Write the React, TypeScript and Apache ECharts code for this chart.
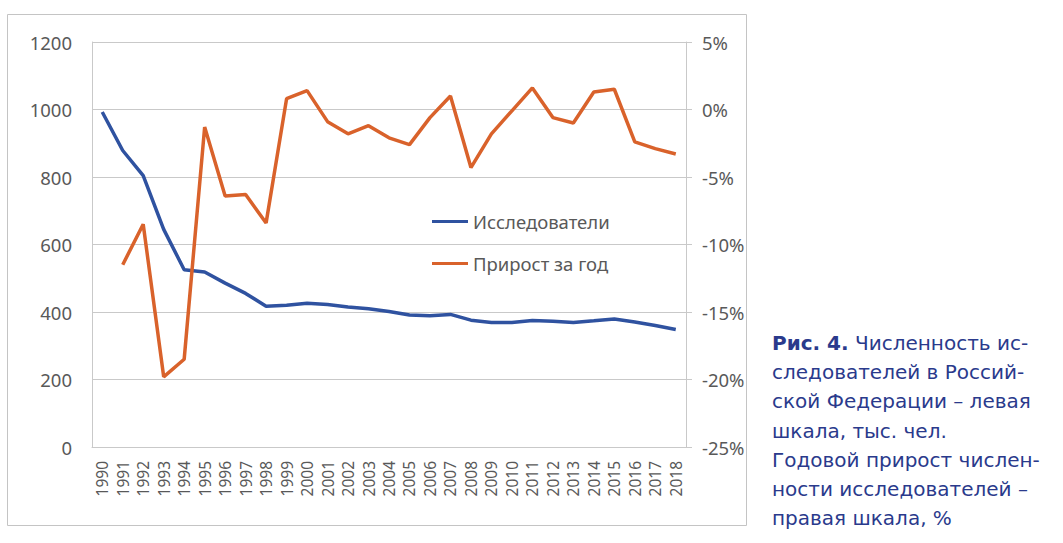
import React, { useEffect, useRef } from "react";
import * as echarts from "echarts";

const years = [
  "1990", "1991", "1992", "1993", "1994", "1995", "1996", "1997", "1998", "1999",
  "2000", "2001", "2002", "2003", "2004", "2005", "2006", "2007", "2008", "2009",
  "2010", "2011", "2012", "2013", "2014", "2015", "2016", "2017", "2018",
];

const researchers = [
  992.6, 878.5, 804.0, 644.9, 525.3, 518.7, 485.6, 455.1, 417.0, 420.2,
  425.9, 422.2, 414.7, 409.8, 401.4, 391.1, 388.9, 392.8, 375.8, 369.2,
  368.9, 374.7, 372.6, 369.0, 373.9, 379.4, 370.4, 359.8, 347.9,
];

const growth = [
  null, -11.5, -8.5, -19.8, -18.5, -1.3, -6.4, -6.3, -8.4, 0.8,
  1.4, -0.9, -1.8, -1.2, -2.1, -2.6, -0.6, 1.0, -4.3, -1.8,
  -0.1, 1.6, -0.6, -1.0, 1.3, 1.5, -2.4, -2.9, -3.3,
];

const seriesNames = ["Исследователи", "Прирост за год"];

const captionLines = [
  "{b|Рис. 4.} Численность ис-",
  "следователей в Россий-",
  "ской Федерации – левая",
  "шкала, тыс. чел.",
  "Годовой прирост числен-",
  "ности исследователей –",
  "правая шкала, %",
];

const BLUE = "#2f52a0";
const ORANGE = "#d9622b";
const CAPTION = "#2a3a8c";
const AXIS_TEXT = "#595959";
const GRID = "#c9c9c9";
const CAPTION_FONT = '"DejaVu Sans", "Liberation Sans", sans-serif';
const AXIS_FONT = '"Noto Sans", sans-serif';

export default function App() {
  const ref = useRef<HTMLDivElement>(null);

  useEffect(() => {
    document.body.style.margin = "0";
    if (!ref.current) return;
    const chart = echarts.init(ref.current, undefined, { renderer: "svg" });

    const captionGraphics = captionLines.map((line, i) => ({
      type: "text",
      x: 772,
      y: 343 + i * 29.2,
      style: {
        text: line,
        fill: CAPTION,
        fontSize: 20,
        fontFamily: CAPTION_FONT,
        verticalAlign: "middle",
        align: "left",
        rich: {
          b: {
            fontWeight: "bold",
            fontSize: 20,
            fontFamily: CAPTION_FONT,
            fill: CAPTION,
          },
        },
      },
    }));

    chart.setOption({
      animation: false,
      backgroundColor: "#ffffff",
      grid: { left: 92, right: 377, top: 42, bottom: 96, containLabel: false },
      legend: {
        orient: "vertical",
        left: 427,
        top: 207,
        itemWidth: 36,
        itemHeight: 3,
        itemGap: 23,
        icon: "rect",
        data: seriesNames,
        textStyle: {
          fontFamily: AXIS_FONT,
          fontSize: 18.5,
          color: AXIS_TEXT,
        },
      },
      xAxis: {
        type: "category",
        data: years,
        boundaryGap: true,
        axisLine: { show: true, lineStyle: { color: GRID, width: 1 } },
        axisTick: { show: false },
        axisLabel: {
          interval: 0,
          rotate: 90,
          margin: 14,
          fontFamily: AXIS_FONT,
          fontSize: 15.5,
          color: AXIS_TEXT,
        },
      },
      yAxis: [
        {
          type: "value",
          min: 0,
          max: 1200,
          interval: 200,
          axisLine: { show: true, lineStyle: { color: GRID, width: 1 } },
          axisTick: { show: false },
          splitLine: { show: true, lineStyle: { color: GRID, width: 1 } },
          axisLabel: {
            margin: 20,
            formatter: (v: number) => String(v),
            fontFamily: AXIS_FONT,
            fontSize: 18.5,
            color: AXIS_TEXT,
          },
        },
        {
          type: "value",
          position: "right",
          min: -25,
          max: 5,
          interval: 5,
          axisLine: { show: true, lineStyle: { color: GRID, width: 1 } },
          axisTick: { show: true, inside: false, length: 6, lineStyle: { color: GRID } },
          splitLine: { show: false },
          axisLabel: {
            margin: 16,
            formatter: "{value}%",
            fontFamily: AXIS_FONT,
            fontSize: 18.5,
            color: AXIS_TEXT,
          },
        },
      ],
      series: [
        {
          name: seriesNames[0],
          type: "line",
          yAxisIndex: 0,
          data: researchers,
          showSymbol: false,
          symbol: "none",
          lineStyle: { color: BLUE, width: 3.5 },
          itemStyle: { color: BLUE },
        },
        {
          name: seriesNames[1],
          type: "line",
          yAxisIndex: 1,
          data: growth,
          showSymbol: false,
          symbol: "none",
          lineStyle: { color: ORANGE, width: 3.5 },
          itemStyle: { color: ORANGE },
        },
      ],
      graphic: [
        {
          type: "rect",
          z: -1,
          shape: { x: 7.5, y: 14.5, width: 739, height: 511 },
          style: { fill: "none", stroke: "#c4c4c4", lineWidth: 1 },
        },
        ...captionGraphics,
      ],
    });

    return () => chart.dispose();
  }, []);

  return (
    <div
      ref={ref}
      style={{ position: "absolute", left: 0, top: 0, width: 1063, height: 543 }}
    />
  );
}
